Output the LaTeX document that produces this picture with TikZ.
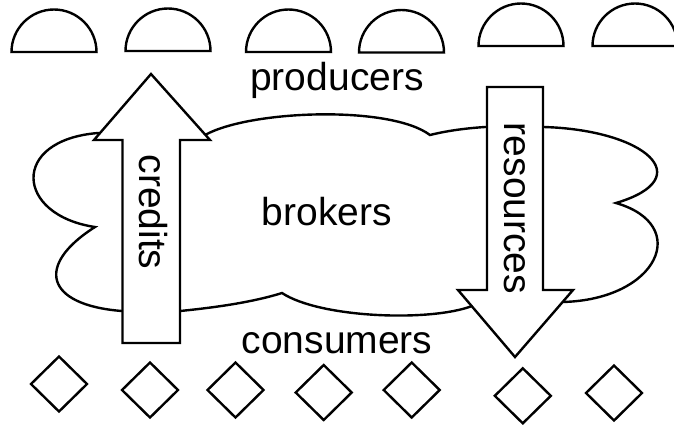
\documentclass[tikz,border=0pt]{standalone}
\usepackage{fontspec}
\setmainfont{Liberation Sans}

\begin{document}
\begin{tikzpicture}[x=0.5pt, y=-0.5pt, line width=1.2pt,
    every node/.style={font=\fontsize{19.5}{23}\selectfont, inner sep=0pt},
    part/.style={draw=black, fill=white, line join=miter}]
    \fill[white] (0,0) rectangle (674,425);
    \useasboundingbox (0,0) rectangle (674,425);

    % producers along the top
    \foreach \cx/\by in {54/52, 168/51, 288.5/52, 401.5/52.5, 521/46, 635/46}
        \draw[part] (\cx-42.5,\by) arc[start angle=180, end angle=360, radius=42.5] -- cycle;

    % the brokers cloud (straight bits run under the arrows)
    \draw[part] (95,227) .. controls (15,215) and (10,140) .. (98,133)
        -- (151,138) -- (205,135)
        .. controls (250,110) and (390,105) .. (430,135)
        .. controls (450,130) and (470,128) .. (485,127)
        -- (544,127)
        .. controls (645,130) and (700,178) .. (616,203)
        .. controls (692,225) and (658,300) .. (562,302)
        -- (515,300) -- (472,306)
        .. controls (430,322) and (320,318) .. (282,293)
        .. controls (250,303) and (210,308) .. (180,311)
        -- (122,311)
        .. controls (45,305) and (35,265) .. (95,227) -- cycle;

    % block arrows
    \draw[part] (122.5,343) -- (122.5,140) -- (94,140) -- (151,74) -- (210,140)
        -- (180,140) -- (180,343) -- cycle;
    \draw[part] (487,87) -- (543,87) -- (543,290) -- (573,290) -- (515,357)
        -- (458,290) -- (487,290) -- cycle;

    \node[anchor=base] (producers) at (337,90) {producers};
    \node[anchor=base] (brokers) at (327,225) {brokers};
    \node[anchor=base] (consumers) at (337,353) {consumers};
    \node[anchor=base, rotate=-90] (credits) at (139,212) {credits};
    \node[anchor=base, rotate=-90] (resources) at (504,208.5) {resources};

    % consumers along the bottom
    \foreach \cx/\cy in {59/384, 150/390, 235.5/390, 323.7/392.5, 411.7/390, 522.8/395.8, 614/393}
        \draw[part] (\cx-28,\cy) -- (\cx,\cy-27.5) -- (\cx+28,\cy) -- (\cx,\cy+27.5) -- cycle;
\end{tikzpicture}
\end{document}
